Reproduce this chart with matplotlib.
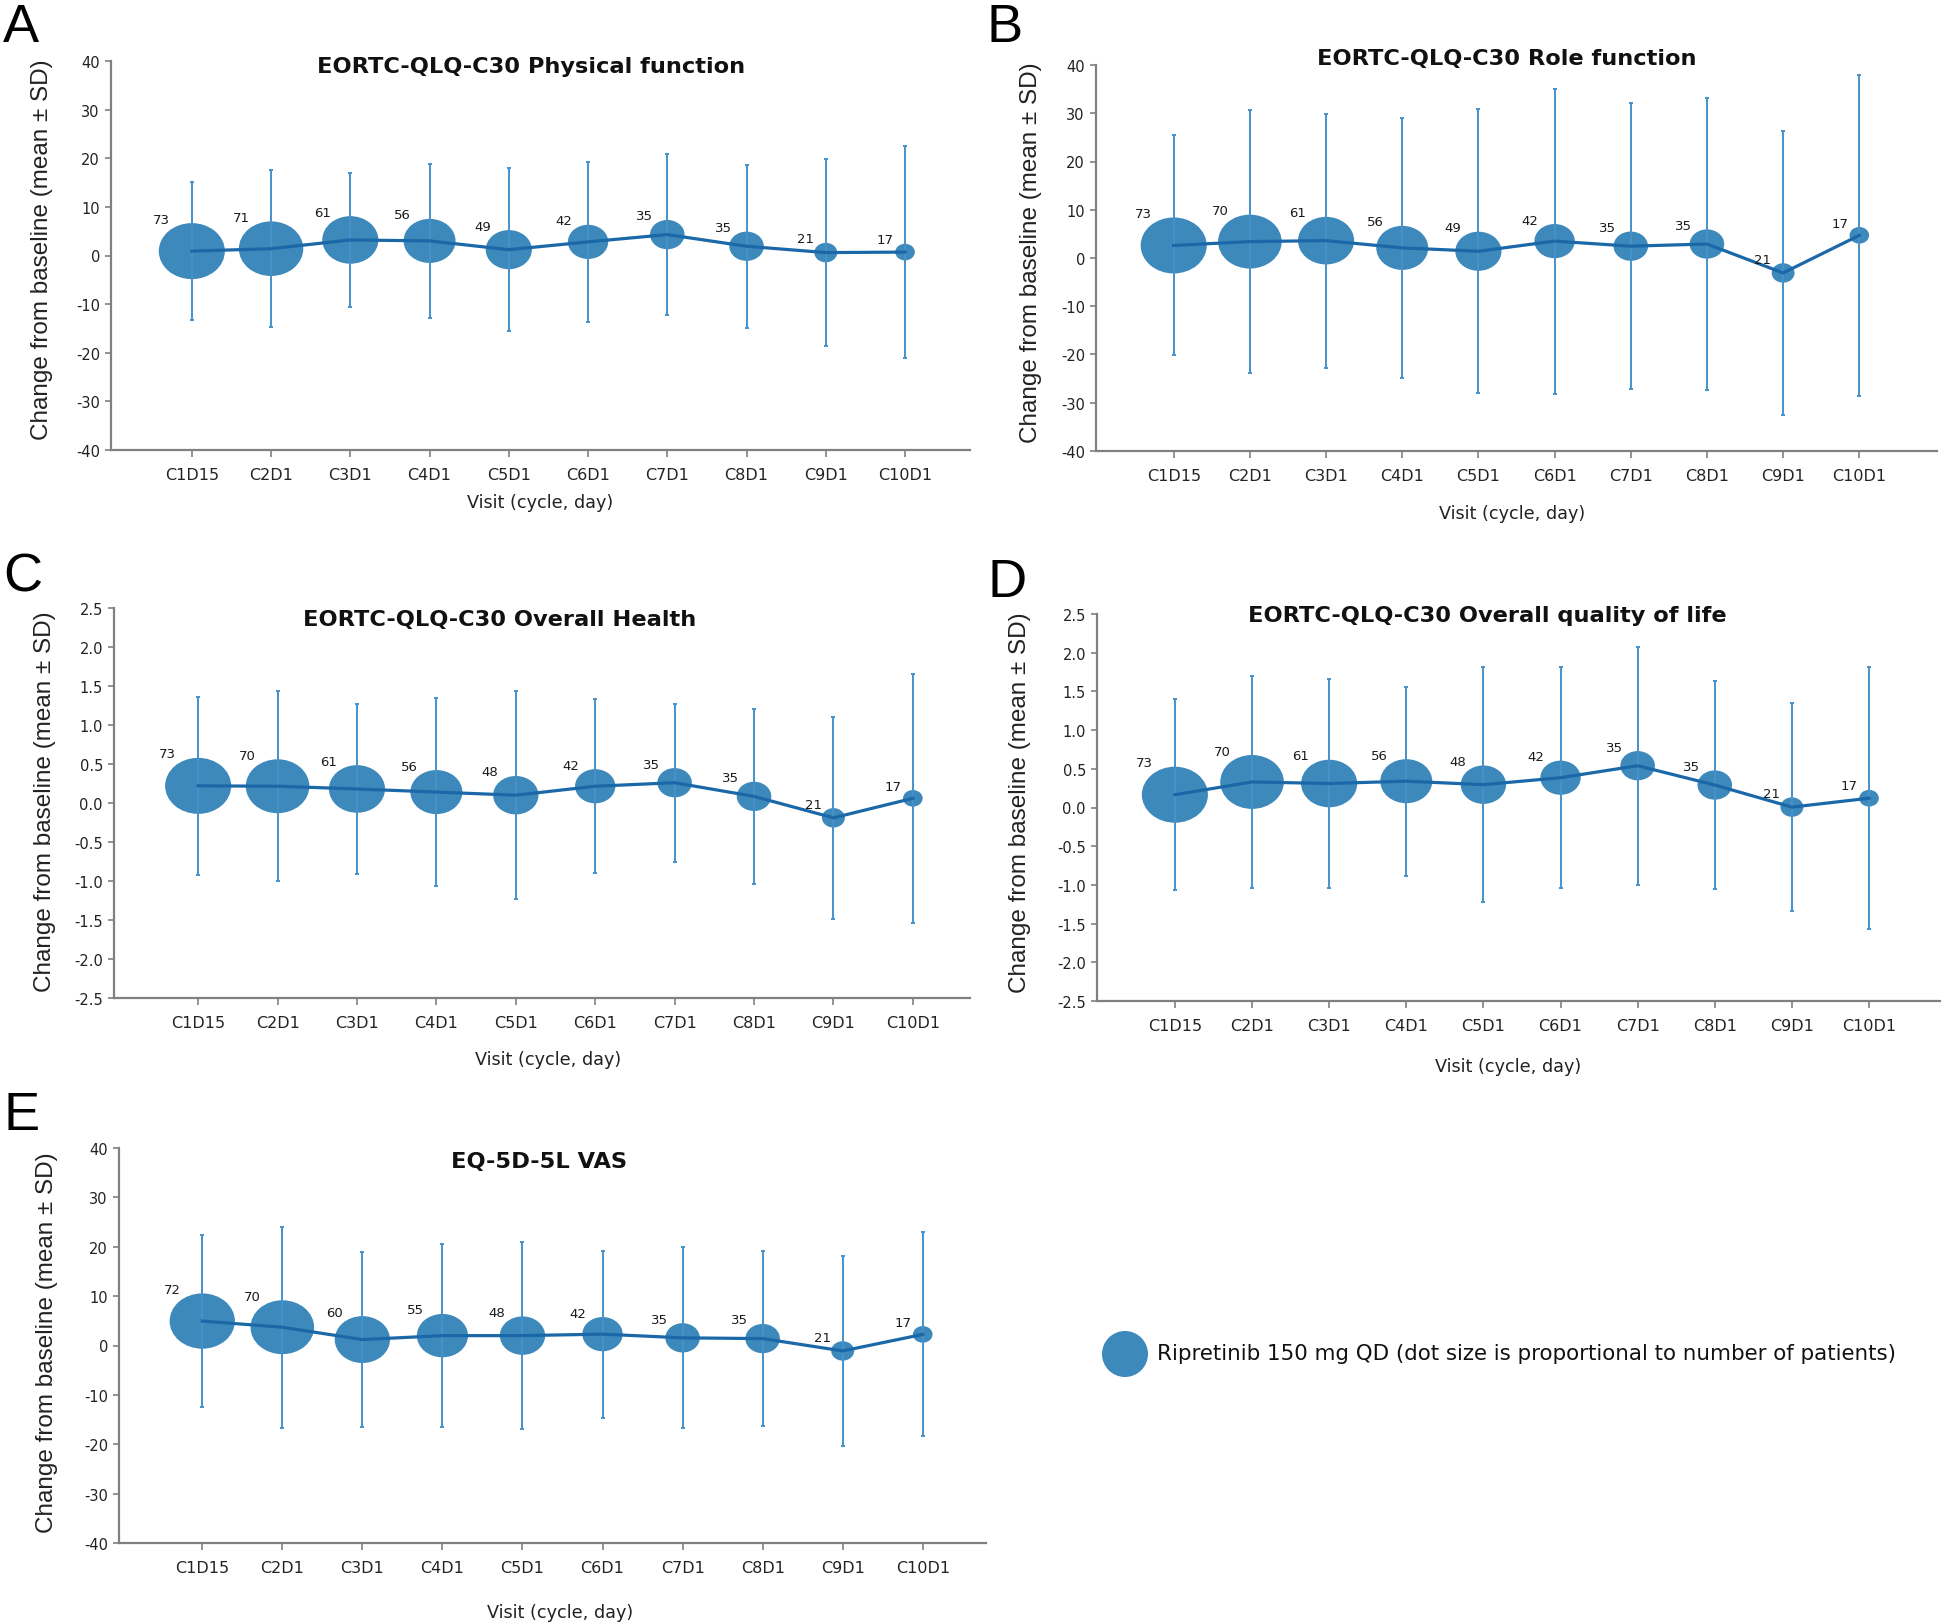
"""
Change from baseline in PRO scores by visit, five panels (A-E).
Bubble size follows the number of patients at each visit.
"""

import matplotlib

matplotlib.use("Agg")

import matplotlib.pyplot as plt
import numpy as np
from matplotlib.markers import MarkerStyle
from matplotlib.patches import Ellipse
from matplotlib.path import Path
from matplotlib.transforms import Affine2D, ScaledTranslation

plt.rcParams["axes.unicode_minus"] = False
plt.rcParams["font.family"] = ["DejaVu Sans"]

visits = ["C1D15", "C2D1", "C3D1", "C4D1", "C5D1",
          "C6D1", "C7D1", "C8D1", "C9D1", "C10D1"]

# A: physical function
n_a = [73, 71, 61, 56, 49, 42, 35, 35, 21, 17]
mean_a = [0.9, 1.4, 3.2, 3.0, 1.2, 2.8, 4.3, 1.9, 0.6, 0.7]
sd_a = [14.2, 16.1, 13.8, 15.9, 16.8, 16.5, 16.5, 16.8, 19.3, 21.8]

# B: role function
n_b = [73, 70, 61, 56, 49, 42, 35, 35, 21, 17]
mean_b = [2.6, 3.4, 3.6, 2.1, 1.4, 3.5, 2.45, 2.9, -3.1, 4.7]
sd_b = [22.8, 27.2, 26.3, 27.0, 29.4, 31.6, 29.7, 30.3, 29.5, 33.2]

# C: overall health
n_c = [73, 70, 61, 56, 48, 42, 35, 35, 21, 17]
mean_c = [0.22, 0.215, 0.18, 0.14, 0.10, 0.215, 0.26, 0.085, -0.19, 0.06]
sd_c = [1.14, 1.215, 1.09, 1.20, 1.33, 1.115, 1.01, 1.125, 1.295, 1.60]

# D: overall quality of life
n_d = [73, 70, 61, 56, 48, 42, 35, 35, 21, 17]
mean_d = [0.165, 0.33, 0.31, 0.34, 0.295, 0.385, 0.54, 0.29, 0.005, 0.12]
sd_d = [1.235, 1.37, 1.35, 1.22, 1.515, 1.425, 1.54, 1.34, 1.345, 1.69]

# E: EQ-5D-5L VAS
n_e = [72, 70, 60, 55, 48, 42, 35, 35, 21, 17]
mean_e = [4.95, 3.7, 1.2, 2.0, 2.0, 2.3, 1.55, 1.4, -1.1, 2.25]
sd_e = [17.45, 20.4, 17.8, 18.5, 18.9, 16.9, 18.35, 17.8, 19.2, 20.65]

titles = ["EORTC-QLQ-C30 Physical function", "EORTC-QLQ-C30 Role function",
          "EORTC-QLQ-C30 Overall Health", "EORTC-QLQ-C30 Overall quality of life",
          "EQ-5D-5L VAS"]
letters = ["A", "B", "C", "D", "E"]
legend_label = "Ripretinib 150 mg QD (dot size is proportional to number of patients)"

W, H = 1944, 1624
DPI = 100

BUBBLE = "#3d89bb"
ERR = "#4592cc"
LINE = "#1b68a8"
SPINE = "#808080"

# layout in pixels: axes (left, top, right, bottom), xlim, title/ylabel/xlabel/letter anchors
panels = [
    dict(box=(111, 62, 970, 451), xlim=(-1.02, 9.82), title=(531, 67),
         ylab=(42, 250), xlab=(540, 503), letter=(3, 3)),
    dict(box=(1096, 66, 1937, 452), xlim=(-1.02, 10.02), title=(1507, 59),
         ylab=(1031, 253), xlab=(1512, 514), letter=(986, 3)),
    dict(box=(114, 609, 970, 999), xlim=(-1.06, 9.72), title=(500, 620),
         ylab=(45, 802), xlab=(548, 1060), letter=(3, 553)),
    dict(box=(1097, 615, 1940, 1002), xlim=(-1.01, 9.92), title=(1487, 616),
         ylab=(1020, 803), xlab=(1508, 1067), letter=(988, 558)),
    dict(box=(119, 1149, 986, 1544), xlim=(-1.04, 9.79), title=(539, 1162),
         ylab=(47, 1343), xlab=(560, 1613), letter=(3, 1091)),
]
series = [(n_a, mean_a, sd_a), (n_b, mean_b, sd_b), (n_c, mean_c, sd_c),
          (n_d, mean_d, sd_d), (n_e, mean_e, sd_e)]
score_ticks = np.arange(-40, 41, 10)
scale_ticks = np.arange(-2.5, 2.51, 0.5)

# ellipse marker, wider than tall like the source
ASPECT = 1.18
ellipse = MarkerStyle(Path.unit_circle().transformed(Affine2D().scale(ASPECT, 1.0)))

fig = plt.figure(figsize=(W / DPI, H / DPI), dpi=DPI)


def fx(px):
    return px / W


def fy(py):
    return 1 - py / H


for i, (p, (n, mean, sd)) in enumerate(zip(panels, series)):
    l, t, r, b = p["box"]
    ax = fig.add_axes([fx(l), fy(b), fx(r) - fx(l), (b - t) / H])
    x = np.arange(len(visits))
    n = np.asarray(n)
    width_px = 0.83 * n + 5.5
    height_px = width_px / ASPECT

    ax.scatter(x, mean, s=(width_px * 0.72) ** 2, marker=ellipse,
               color=BUBBLE, edgecolors="none", zorder=2)
    ax.errorbar(x, mean, yerr=sd, fmt="none", ecolor=ERR, elinewidth=1.4,
                capsize=1.5, capthick=1.4, zorder=3)
    ax.plot(x, mean, color=LINE, lw=2.3, zorder=4)

    for xi, yi, ni, w, h in zip(x, mean, n, width_px, height_px):
        dx = (-15 - 0.47 * w / 2) * 0.72
        dy = (h / 2 + 4) * 0.72
        ax.annotate(str(ni), (xi, yi), xytext=(dx, dy), textcoords="offset points",
                    ha="center", va="center", fontsize=9.5, color="#1a1a1a", zorder=5)

    if i in (2, 3):
        ax.set_ylim(-2.5, 2.5)
        ax.set_yticks(scale_ticks)
        ax.set_yticklabels([f"{v:.1f}" for v in scale_ticks])
    else:
        ax.set_ylim(-40, 40)
        ax.set_yticks(score_ticks)
        ax.set_yticklabels([f"{v:d}" for v in score_ticks])
    ax.set_xlim(*p["xlim"])
    ax.set_xticks(x)
    ax.set_xticklabels(visits)
    shift = ScaledTranslation(-6 / DPI, 0, fig.dpi_scale_trans)
    for lab in ax.get_xticklabels():
        lab.set_transform(lab.get_transform() + shift)

    for side in ("top", "right"):
        ax.spines[side].set_visible(False)
    for side in ("left", "bottom"):
        ax.spines[side].set_color(SPINE)
        ax.spines[side].set_linewidth(1.6)
    ax.tick_params(axis="y", length=4, width=1.2, color=SPINE, pad=4,
                   labelsize=10.5, labelcolor="#222222")
    ax.tick_params(axis="x", length=5, width=1.2, color=SPINE, pad=7,
                   labelsize=11.5, labelcolor="#222222")
    ax.patch.set_alpha(0)

    fig.text(fx(p["title"][0]), fy(p["title"][1]), titles[i], ha="center", va="center",
             fontsize=16.2, fontweight="bold", color="#111111")
    fig.text(fx(p["ylab"][0]), fy(p["ylab"][1]), "Change from baseline (mean ± SD)",
             rotation=90, ha="center", va="center", fontsize=17.5,
             family=["Liberation Sans", "DejaVu Sans"], color="#222222")
    fig.text(fx(p["xlab"][0]), fy(p["xlab"][1]), "Visit (cycle, day)",
             ha="center", va="center", fontsize=12.7, color="#222222")
    fig.text(fx(p["letter"][0]), fy(p["letter"][1]), letters[i], ha="left", va="top",
             fontsize=39, family=["Liberation Sans", "DejaVu Sans"], color="black")

# legend: one round marker plus text
fig.add_artist(Ellipse((fx(1125), fy(1355)), width=46 / W, height=46 / H,
                       transform=fig.transFigure, color=BUBBLE, lw=0))
fig.text(fx(1157), fy(1354), legend_label, ha="left", va="center",
         fontsize=15.4, color="#111111")

fig.savefig("out.png", dpi=DPI)
